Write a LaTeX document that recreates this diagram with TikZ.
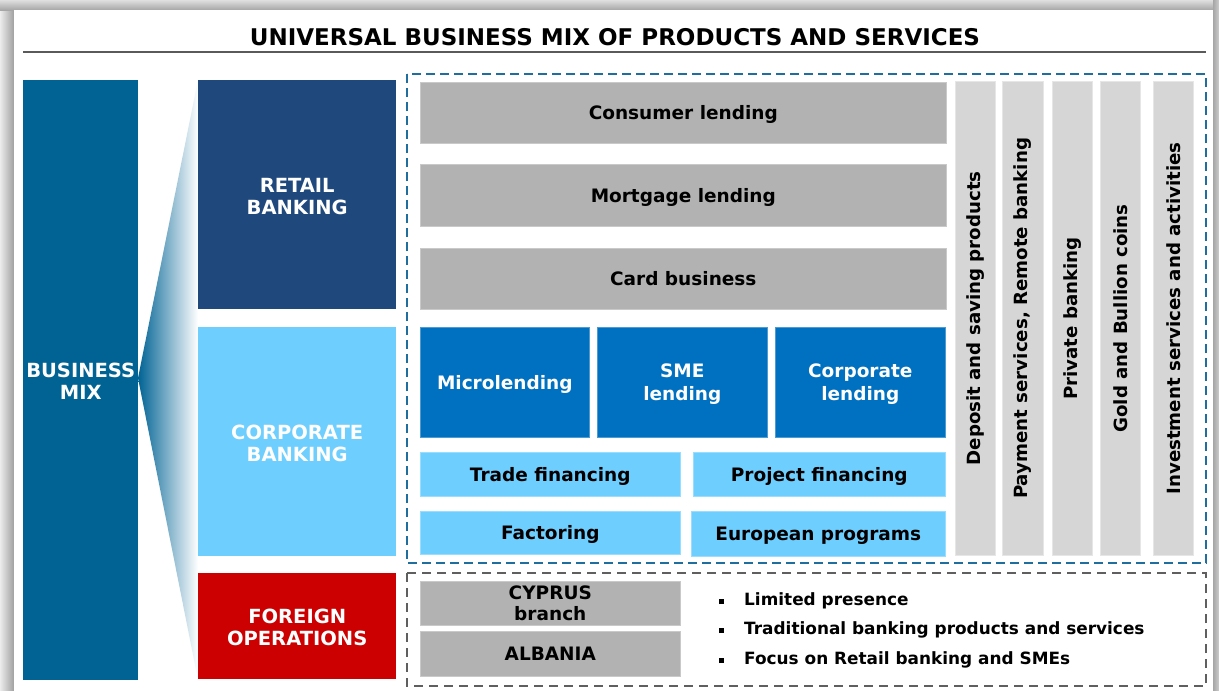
\documentclass[tikz,border=0pt]{standalone}
\usepackage{fontspec}
\setmainfont{DejaVu Sans}
\definecolor{bmix}{RGB}{0,99,148}
\definecolor{retail}{RGB}{31,73,125}
\definecolor{corpl}{RGB}{110,207,255}
\definecolor{fred}{RGB}{204,0,0}
\definecolor{midgray}{RGB}{178,178,178}
\definecolor{ltgray}{RGB}{214,214,214}
\definecolor{itemblue}{RGB}{0,112,192}
\definecolor{dashblue}{RGB}{31,110,158}
\definecolor{dashgray}{RGB}{95,95,95}
\definecolor{lineg}{RGB}{90,90,90}
\newcommand\pbox[7]{\node[#6, anchor=north west, minimum width={(#4-#2)*1pt}, minimum height={(#5-#3)*1pt}] (#1) at (#2,#3) {#7};}
\tikzset{
  basebox/.style={inner sep=0pt, align=center, text depth=0pt, font=\bfseries\fontsize{18.5}{23}\selectfont},
  mainbox/.style={inner sep=0pt, align=center, text=white, text height=39.2pt, text depth=0pt, font=\bfseries\fontsize{19.5}{22}\selectfont},
  graybox/.style={basebox, fill=midgray, draw=midgray!70!white, line width=0.6pt, text=black},
  bluebox/.style={basebox, fill=itemblue, draw=itemblue!70!white, line width=0.6pt, text=white},
  lightbox/.style={basebox, fill=corpl, draw=corpl!70!white, line width=0.6pt, text=black},
  colbox/.style={inner sep=0pt, fill=ltgray, draw=ltgray!60!white, line width=0.8pt},
  coltext/.style={inner sep=0pt, rotate=90, font=\bfseries\fontsize{18.2}{20}\selectfont},
  bluedash/.style={draw=dashblue, line width=2.4pt, dash pattern=on 9pt off 5pt},
  graydash/.style={draw=dashgray, line width=2.4pt, dash pattern=on 9pt off 6pt},
  bullettext/.style={inner sep=0pt, anchor=west, font=\bfseries\fontsize{16.9}{19}\selectfont},
}
\newcommand\sq{\makebox[25pt][l]{\raisebox{1.5pt}{\rule{5pt}{5pt}}}}
\begin{document}
\begin{tikzpicture}[x=1pt,y=-1pt]
\useasboundingbox (0,0) rectangle (1219,691);
% frame shadow
\fill[gray!55] (0,0) rectangle (1219,691);
\shade[left color=gray!15, right color=gray!75] (0,0) rectangle (14,691);
\shade[top color=gray!25, bottom color=gray!70] (0,0) rectangle (1219,10);
\shade[left color=gray!70, right color=gray!40] (1213,0) rectangle (1219,691);
\node[fill=white, inner sep=0pt, anchor=north west, minimum width=1199pt, minimum height=681pt] (frame) at (14,10) {};
% title
\node[inner sep=0pt, font=\bfseries\fontsize{23}{26}\selectfont] (title) at (615,37) {UNIVERSAL BUSINESS MIX OF PRODUCTS AND SERVICES};
\coordinate (tl) at (23,52);
\coordinate (tr) at (1206,52);
\draw[lineg, line width=2.2pt] (tl) -- (tr);
% fan
\shade[left color=bmix, right color=white] (138,378) -- (198,80) -- (198,680) -- cycle;
% left column
\pbox{bm}{23}{80}{138}{680}{mainbox, fill=bmix}{BUSINESS\\MIX}
\pbox{rb}{198}{80}{396}{309}{mainbox, fill=retail}{RETAIL\\BANKING}
\pbox{cb}{198}{327}{396}{556}{mainbox, fill=corpl}{CORPORATE\\BANKING}
\pbox{fo}{198}{573}{396}{679}{mainbox, fill=fred}{FOREIGN\\OPERATIONS}
% dashed areas
\coordinate (d1a) at (407,74);
\coordinate (d1b) at (1206,563);
\coordinate (d2a) at (407,573);
\coordinate (d2b) at (1206,686);
\draw[bluedash] (d1a) rectangle (d1b);
\draw[graydash] (d2a) rectangle (d2b);
% retail items
\pbox{cl}{420}{82}{946}{143}{graybox}{Consumer lending}
\pbox{ml}{420}{164}{946}{226}{graybox}{Mortgage lending}
\pbox{cbz}{420}{248}{946}{309}{graybox}{Card business}
% corporate items
\pbox{mi}{420}{327}{589}{437}{bluebox}{Microlending}
\pbox{sme}{597}{327}{767}{437}{bluebox}{SME\\lending}
\pbox{col}{775}{327}{945}{437}{bluebox}{Corporate\\lending}
\pbox{tf}{420}{452}{680}{496}{lightbox}{Trade financing}
\pbox{pf}{693}{452}{945}{496}{lightbox}{Project financing}
\pbox{fa}{420}{511}{680}{554}{lightbox}{Factoring}
\pbox{ep}{691}{511}{945}{556}{lightbox}{European programs}
% vertical columns
\pbox{v1}{955}{81}{995}{555}{colbox}{}
\pbox{v2}{1002}{81}{1043}{555}{colbox}{}
\pbox{v3}{1052}{81}{1092}{555}{colbox}{}
\pbox{v4}{1100}{81}{1140}{555}{colbox}{}
\pbox{v5}{1153}{81}{1193}{555}{colbox}{}
\node[coltext] (t1) at (v1.center) {Deposit and saving products};
\node[coltext] (t2) at (v2.center) {Payment services, Remote banking};
\node[coltext] (t3) at (v3.center) {Private banking};
\node[coltext] (t4) at (v4.center) {Gold and Bullion coins};
\node[coltext] (t5) at (v5.center) {Investment services and activities};
% foreign
\pbox{cy}{420}{581}{680}{625}{graybox, font=\bfseries\fontsize{18.5}{21}\selectfont}{CYPRUS\\branch}
\pbox{al}{420}{631}{680}{676}{graybox}{ALBANIA}
\node[bullettext] (b1) at (719,601) {\sq Limited presence};
\node[bullettext] (b2) at (719,630) {\sq Traditional banking products and services};
\node[bullettext] (b3) at (719,660) {\sq Focus on Retail banking and SMEs};
\end{tikzpicture}
\end{document}
